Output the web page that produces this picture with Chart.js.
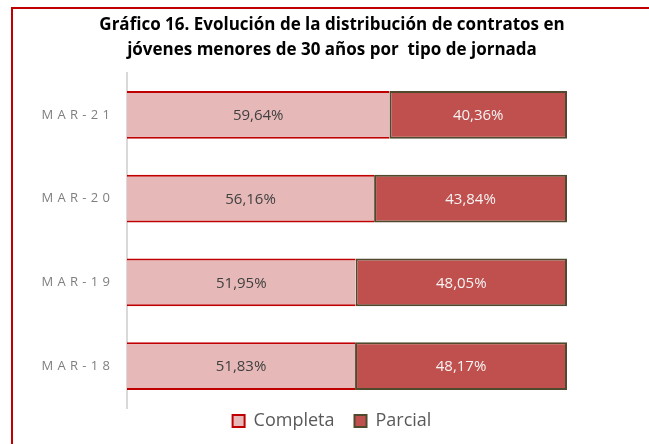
<!DOCTYPE html>
<html>
<head>
<meta charset="utf-8">
<script src="https://cdn.jsdelivr.net/npm/chart.js@4.4.1/dist/chart.umd.min.js"></script>
<style>
  html, body { margin: 0; padding: 0; background: #fff; overflow: hidden; width: 649px; height: 444px; }
  #frame { position: absolute; left: 11px; top: 7px; width: 660px; height: 470px; border: 2px solid #C00000; }
  canvas { display: block; }
</style>
</head>
<body>
<div id="frame"><canvas id="chart" width="638" height="447"></canvas></div>
<script>
var categories = ['MAR-21', 'MAR-20', 'MAR-19', 'MAR-18'];
var completa = [59.64, 56.16, 51.95, 51.83];
var parcial = [40.36, 43.84, 48.05, 48.17];

function fmt(v) {
  return v.toFixed(2).replace('.', ',') + '%';
}

// percentages written in the middle of each bar segment
var valueLabels = {
  id: 'valueLabels',
  afterDatasetsDraw: function(chart) {
    var ctx = chart.ctx;
    ctx.save();
    ctx.font = '15px "Open Sans"';
    ctx.textAlign = 'center';
    ctx.textBaseline = 'middle';
    chart.data.datasets.forEach(function(ds, i) {
      chart.getDatasetMeta(i).data.forEach(function(bar, j) {
        ctx.fillStyle = ds.labelColor;
        ctx.fillText(fmt(ds.data[j]), (bar.x + bar.base) / 2, bar.y + 1);
      });
    });
    ctx.restore();
  }
};

// pull the legend row up closer to the plot
var legendLift = {
  id: 'legendLift',
  afterLayout: function(chart) {
    chart.legend.top -= 16;
    chart.legend.bottom -= 16;
  }
};

new Chart(document.getElementById('chart'), {
  type: 'bar',
  data: {
    labels: categories,
    datasets: [
      {
        label: 'Completa',
        data: completa,
        backgroundColor: '#E6B9B8',
        borderColor: '#C00000',
        borderWidth: { top: 2, bottom: 2, left: 0, right: 0 },
        borderSkipped: false,
        labelColor: '#404040'
      },
      {
        label: 'Parcial',
        data: parcial,
        backgroundColor: '#C0504D',
        borderColor: '#4F4A2E',
        borderWidth: 2,
        borderSkipped: false,
        labelColor: '#F4F4F4'
      }
    ]
  },
  plugins: [valueLabels, legendLift],
  options: {
    responsive: false,
    animation: false,
    indexAxis: 'y',
    layout: { padding: 0 },
    datasets: {
      bar: { barPercentage: 0.571, categoryPercentage: 1 }
    },
    scales: {
      x: { stacked: true, min: 0, max: 100, display: false },
      y: {
        stacked: true,
        grid: { display: false, drawTicks: false },
        border: { display: true, color: '#D9D9D9', width: 2 },
        ticks: {
          padding: 17,
          color: '#7F7F7F',
          font: { family: '"Open Sans"', size: 13 },
          callback: function(value) {
            return this.getLabelForValue(value).split('').join('\u2009\u2009');
          }
        },
        afterFit: function(scale) { scale.width = 114; }
      },
      // empty right-hand axis, only keeps the blank margin right of the bars
      yRight: {
        type: 'category',
        position: 'right',
        grid: { display: false, drawTicks: false },
        border: { display: false },
        ticks: { display: false },
        afterFit: function(scale) { scale.width = 84; }
      }
    },
    plugins: {
      title: {
        display: true,
        text: ['Gráfico 16. Evolución de la distribución de contratos en',
               'jóvenes menores de 30 años por  tipo de jornada'],
        color: '#000000',
        font: { family: '"Open Sans"', size: 17, weight: 'bold', lineHeight: '25px' },
        padding: { top: 4, bottom: 10 }
      },
      legend: {
        position: 'bottom',
        labels: {
          boxWidth: 12,
          boxHeight: 12,
          padding: 20,
          color: '#595959',
          font: { family: '"Open Sans"', size: 18 },
          generateLabels: function(chart) {
            var items = Chart.defaults.plugins.legend.labels.generateLabels(chart);
            items.forEach(function(it) { it.lineWidth = 2; });
            return items;
          }
        }
      },
      tooltip: { enabled: false }
    }
  }
});
</script>
</body>
</html>
